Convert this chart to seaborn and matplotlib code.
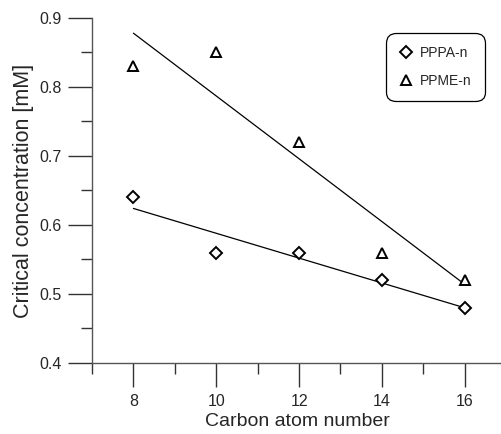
import matplotlib
matplotlib.use("Agg")
import matplotlib.pyplot as plt
import seaborn as sns
import pandas as pd
import numpy as np
from matplotlib.ticker import MultipleLocator

carbon = [8, 10, 12, 14, 16]
pppa = [0.64, 0.56, 0.56, 0.52, 0.48]
ppme = [0.83, 0.85, 0.72, 0.56, 0.52]

sns.set_style("ticks")
plt.rcParams['font.family'] = ['Liberation Sans', 'DejaVu Sans']

fig = plt.figure(figsize=(5.02, 4.34), dpi=100)
ax = fig.add_axes([92/502, 1-363/434, 410/502, 345/434])

df = pd.DataFrame({"n": carbon + carbon,
                   "c": pppa + ppme,
                   "s": ["PPPA-n"]*5 + ["PPME-n"]*5})

for name, mk, ms in [("PPPA-n", "D", 6.0), ("PPME-n", "^", 7.0)]:
    sub = df[df.s == name]
    sns.regplot(data=sub, x="n", y="c", ci=None, scatter=False, truncate=True,
                line_kws=dict(color="black", lw=0.9), ax=ax)
    ax.plot(sub.n, sub.c, linestyle="none", marker=mk, markersize=ms,
            markerfacecolor="white", markeredgecolor="black", markeredgewidth=1.4,
            label=name)

ax.set_xlim(7, 16.9)
ax.set_ylim(0.4, 0.9)
ax.xaxis.set_major_locator(MultipleLocator(2))
ax.xaxis.set_minor_locator(MultipleLocator(1))
ax.yaxis.set_major_locator(MultipleLocator(0.1))
ax.yaxis.set_minor_locator(MultipleLocator(0.05))
ax.set_xticks([8, 10, 12, 14, 16])
ax.set_xticklabels(["8", "10", "12", "14", "16"])
ax.set_yticks([0.4, 0.5, 0.6, 0.7, 0.8, 0.9])
ax.set_yticklabels(["0.4", "0.5", "0.6", "0.7", "0.8", "0.9"])

for sp in ["top", "right"]:
    ax.spines[sp].set_visible(False)
for sp in ["left", "bottom"]:
    ax.spines[sp].set_color("#555555")
    ax.spines[sp].set_linewidth(1.0)
ax.tick_params(which="major", direction="out", length=17, width=1.0, color="#333333",
               labelsize=11.5, pad=5)
ax.tick_params(which="minor", direction="out", length=8, width=1.0, color="#333333")

ax.set_xlabel("Carbon atom number", fontsize=14, labelpad=3)
ax.set_ylabel("Critical concentration [mM]", fontsize=15.5, labelpad=4)

leg = ax.legend(loc="upper right", bbox_to_anchor=(0.9585, 0.9565), borderaxespad=0,
                fontsize=10, frameon=True, fancybox=True, edgecolor="black",
                framealpha=1, handlelength=1.0, handletextpad=0.5, borderpad=0.95,
                labelspacing=1.0)
leg.get_frame().set_linewidth(0.9)
leg.get_frame().set_boxstyle("round,pad=0,rounding_size=0.7")

fig.savefig("out.png", dpi=100)
